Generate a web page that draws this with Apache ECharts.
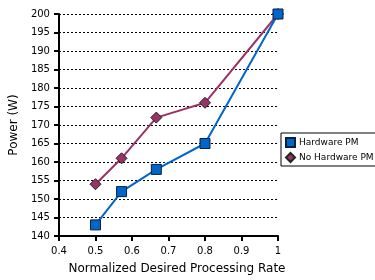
<!DOCTYPE html>
<html>
<head>
<meta charset="utf-8">
<script src="https://cdn.jsdelivr.net/npm/echarts@6/dist/echarts.min.js"></script>
<style>html,body{margin:0;padding:0;background:#fff}#c{width:375px;height:280px}</style>
</head>
<body>
<div id="c"></div>
<script>
const rates = [0.5, 4/7, 2/3, 0.8, 1];
const hardwarePM = [143, 152, 158, 165, 200];
const noHardwarePM = [154, 161, 172, 176, 200];
const seriesNames = ['Hardware PM', 'No Hardware PM'];
const xAxisName = 'Normalized Desired Processing Rate';
const yAxisName = 'Power (W)';

const FONT = 'DejaVu Sans';
const chart = echarts.init(document.getElementById('c'), null, {renderer: 'canvas'});
chart.setOption({
  animation: false,
  backgroundColor: '#fff',
  textStyle: {fontFamily: FONT, color: '#000'},
  grid: {left: 57, right: 97, top: 14, bottom: 43},
  legend: {
    orient: 'vertical', left: 281, top: 133,
    padding: [4, 8, 3, 4], itemGap: 4, itemWidth: 9, itemHeight: 9,
    borderColor: '#000', borderWidth: 1, borderRadius: 0,
    textStyle: {fontFamily: FONT, fontSize: 9, color: '#000', padding: [0, 0, 0, -1]},
    data: [
      {name: seriesNames[0], icon: 'rect'},
      {name: seriesNames[1], icon: 'diamond'}
    ]
  },
  xAxis: {
    type: 'value', min: 0.4, max: 1, interval: 0.1,
    name: xAxisName, nameLocation: 'middle', nameGap: 27,
    nameTextStyle: {fontFamily: FONT, fontSize: 12, color: '#000', padding: [0, 0, 0, 17]},
    axisLine: {lineStyle: {color: '#000', width: 2}},
    axisTick: {show: true, length: 5, lineStyle: {color: '#000', width: 2}},
    axisLabel: {fontFamily: FONT, fontSize: 10, color: '#000', margin: 10,
      formatter: v => String(Math.round(v * 10) / 10)},
    splitLine: {show: false}
  },
  yAxis: {
    type: 'value', min: 140, max: 200, interval: 5,
    name: yAxisName, nameLocation: 'middle', nameGap: 37, nameRotate: 90,
    nameTextStyle: {fontFamily: FONT, fontSize: 12, color: '#000'},
    axisLine: {show: true, lineStyle: {color: '#000', width: 2}},
    axisTick: {show: true, length: 5, lineStyle: {color: '#000', width: 2}},
    axisLabel: {fontFamily: FONT, fontSize: 10, color: '#000', margin: 9},
    splitLine: {show: true, lineStyle: {color: '#000', width: 1, type: [2, 2]}}
  },
  series: [
    {
      name: seriesNames[1], type: 'line', z: 2,
      data: rates.map((r, i) => [r, noHardwarePM[i]]),
      symbol: 'diamond', symbolSize: 11,
      lineStyle: {color: '#993366', width: 2},
      itemStyle: {color: '#993366', borderColor: '#222', borderWidth: 1}
    },
    {
      name: seriesNames[0], type: 'line', z: 3,
      data: rates.map((r, i) => [r, hardwarePM[i]]),
      symbol: 'rect', symbolSize: 10,
      lineStyle: {color: '#0066CC', width: 2},
      itemStyle: {color: '#0066CC', borderColor: '#0a2040', borderWidth: 1}
    }
  ]
});
</script>
</body>
</html>
